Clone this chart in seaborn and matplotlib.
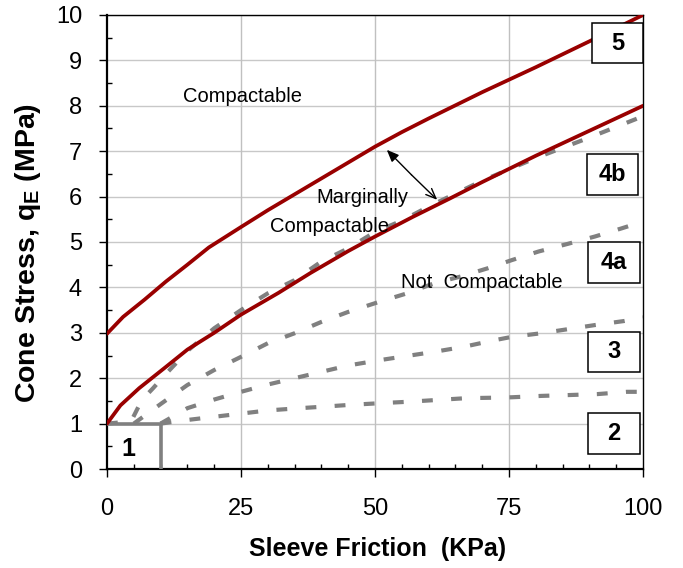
import matplotlib
matplotlib.use("Agg")
import matplotlib.pyplot as plt
import seaborn as sns
from matplotlib.patches import Rectangle
from matplotlib.ticker import MultipleLocator

# ---------------- data ----------------
upper_x = [0, 3, 7, 11, 15, 19, 25, 30, 35, 40, 45, 50, 55, 60, 70, 80, 90, 100]
upper_y = [2.98, 3.35, 3.73, 4.13, 4.5, 4.88, 5.33, 5.7, 6.05, 6.4, 6.75, 7.1, 7.42, 7.72, 8.3, 8.85, 9.42, 10.0]

lower_x = [0, 2.5, 6, 11, 15, 20, 25, 32, 38, 45, 50, 57, 64, 70, 80, 90, 100]
lower_y = [1.0, 1.4, 1.78, 2.25, 2.63, 3.0, 3.4, 3.88, 4.32, 4.8, 5.12, 5.55, 5.96, 6.32, 6.9, 7.45, 8.0]

g1_x = [0, 4.5, 6.5, 8.6, 10.8, 15.2, 20, 25, 30, 35, 40, 45, 50, 55, 60, 70, 80, 90, 100]
g1_y = [1.0, 1.05, 1.52, 1.78, 2.07, 2.62, 3.1, 3.5, 3.87, 4.16, 4.57, 4.86, 5.22, 5.47, 5.78, 6.35, 6.85, 7.3, 7.77]

g2_x = [5, 10, 15, 20, 25, 30, 35, 40, 45, 51, 56, 61, 66, 71, 75.5, 80.5, 86, 91, 96, 100]
g2_y = [1.0, 1.43, 1.85, 2.18, 2.47, 2.77, 2.99, 3.24, 3.46, 3.69, 3.87, 4.09, 4.24, 4.42, 4.6, 4.79, 4.96, 5.12, 5.3, 5.45]

g3_x = [10, 15, 20, 25, 30, 35, 40, 45, 51, 56, 61, 66.5, 72, 75.5, 81, 86, 91, 96.5, 100]
g3_y = [1.0, 1.34, 1.53, 1.7, 1.86, 2.0, 2.14, 2.28, 2.4, 2.49, 2.58, 2.69, 2.83, 2.91, 2.99, 3.08, 3.17, 3.26, 3.34]

g4_x = [10, 15, 20, 25, 30, 36, 40, 45, 51, 56, 61.5, 67, 72, 75.5, 81, 86.5, 91.5, 97, 100]
g4_y = [1.0, 1.08, 1.15, 1.22, 1.29, 1.34, 1.37, 1.41, 1.45, 1.48, 1.52, 1.56, 1.57, 1.58, 1.61, 1.63, 1.65, 1.7, 1.7]

box1_x = [0, 10, 10]
box1_y = [1, 1, 0]

zone_labels = ["5", "4b", "4a", "3", "2"]
x_ticks = [0, 25, 50, 75, 100]
y_ticks = list(range(0, 11))

# ---------------- style ----------------
sns.set_theme(style="white")
plt.rcParams['font.family'] = ['Liberation Sans', 'DejaVu Sans']
plt.rcParams['mathtext.fontset'] = 'custom'
plt.rcParams['mathtext.rm'] = 'Liberation Sans'
plt.rcParams['mathtext.bf'] = 'Liberation Sans:bold'
for k in ['text.color', 'axes.labelcolor', 'xtick.color', 'ytick.color']:
    plt.rcParams[k] = 'black'

fig = plt.figure(figsize=(6.83, 5.68), dpi=100)
ax = fig.add_axes([107/683, 1-469/568, 536/683, 454/568])

RED = "#990000"
GRAY = "#808080"
dash = (0, (2.6, 4.4))

for v in y_ticks:
    ax.axhline(v, color="#c8c8c8", lw=1.0, zorder=0)
for v in [25, 50, 75]:
    ax.axvline(v, color="#c0c0c0", lw=1.0, zorder=0)

for gx, gy in [(g1_x, g1_y), (g2_x, g2_y), (g3_x, g3_y), (g4_x, g4_y)]:
    sns.lineplot(x=gx, y=gy, ax=ax, color=GRAY, lw=3.0, linestyle=dash,
                 dash_capstyle='butt', estimator=None, sort=False, zorder=2)

sns.lineplot(x=box1_x, y=box1_y, ax=ax, color=GRAY, lw=2.6, estimator=None,
             sort=False, zorder=3)

sns.lineplot(x=upper_x, y=upper_y, ax=ax, color=RED, lw=2.7, estimator=None, sort=False, zorder=4)
sns.lineplot(x=lower_x, y=lower_y, ax=ax, color=RED, lw=2.7, estimator=None, sort=False, zorder=4)

ax.set_xlim(0, 100)
ax.set_ylim(0, 10)

# zone boxes
boxes = [(90.5, 8.94, 9.5, 0.88), (89.6, 6.04, 9.5, 0.9), (89.7, 4.1, 9.7, 0.9),
         (89.7, 2.14, 9.7, 0.88), (89.7, 0.33, 9.7, 0.9)]
for (bx, by, bw, bh), lab in zip(boxes, zone_labels):
    ax.add_patch(Rectangle((bx, by), bw, bh, facecolor="white", edgecolor="black",
                           lw=1.1, zorder=5))
    ax.text(bx + bw/2, by + bh/2, lab, ha="center", va="center", fontsize=17,
            fontweight="bold", zorder=6)

ax.text(4.0, 0.45, "1", ha="center", va="center", fontsize=18, fontweight="bold", zorder=6)

fs = 14.5
ax.text(25.3, 8.2, "Compactable", ha="center", va="center", fontsize=fs, zorder=6)
ax.text(47.6, 5.97, "Marginally", ha="center", va="center", fontsize=fs, zorder=6)
ax.text(41.6, 5.35, "Compactable", ha="center", va="center", fontsize=fs, zorder=6)
ax.text(69.9, 4.1, "Not  Compactable", ha="center", va="center", fontsize=fs, zorder=6)

mid = (56.8, 6.48)
ax.annotate("", xy=(52.2, 7.03), xytext=mid,
            arrowprops=dict(arrowstyle="-|>,head_length=0.6,head_width=0.25", color="black",
                            lw=1.0, shrinkA=0, shrinkB=0), zorder=6)
ax.annotate("", xy=(61.6, 5.93), xytext=mid,
            arrowprops=dict(arrowstyle="->,head_length=0.6,head_width=0.25", color="black",
                            lw=1.0, shrinkA=0, shrinkB=0), zorder=6)

# axes / ticks
ax.set_xticks(x_ticks)
ax.set_yticks(y_ticks)
ax.xaxis.set_minor_locator(MultipleLocator(5))
ax.yaxis.set_minor_locator(MultipleLocator(0.5))
ax.tick_params(which="major", direction="out", length=6, width=1.0, color="black",
               labelsize=17, bottom=True, left=True)
ax.tick_params(axis="x", which="major", pad=15)
ax.tick_params(axis="y", which="major", pad=12)
ax.tick_params(which="minor", direction="in", length=3.5, width=1.0, color="black",
               bottom=True, left=True)

for s in ["left", "bottom"]:
    ax.spines[s].set_linewidth(1.6)
    ax.spines[s].set_color("black")
for s in ["top", "right"]:
    ax.spines[s].set_linewidth(1.0)
    ax.spines[s].set_color("black")
    ax.spines[s].set_visible(True)

ax.set_xlabel("Sleeve Friction  (KPa)", fontsize=18, fontweight="bold", va="center")
ax.xaxis.set_label_coords(0.504, -0.176)
ax.set_ylabel(r"Cone Stress, q$_{\mathbf{E}}$ (MPa)", fontsize=20.5, fontweight="bold", va="center")
ax.yaxis.set_label_coords(-0.147, 0.476)

fig.savefig("out.png", dpi=100)
